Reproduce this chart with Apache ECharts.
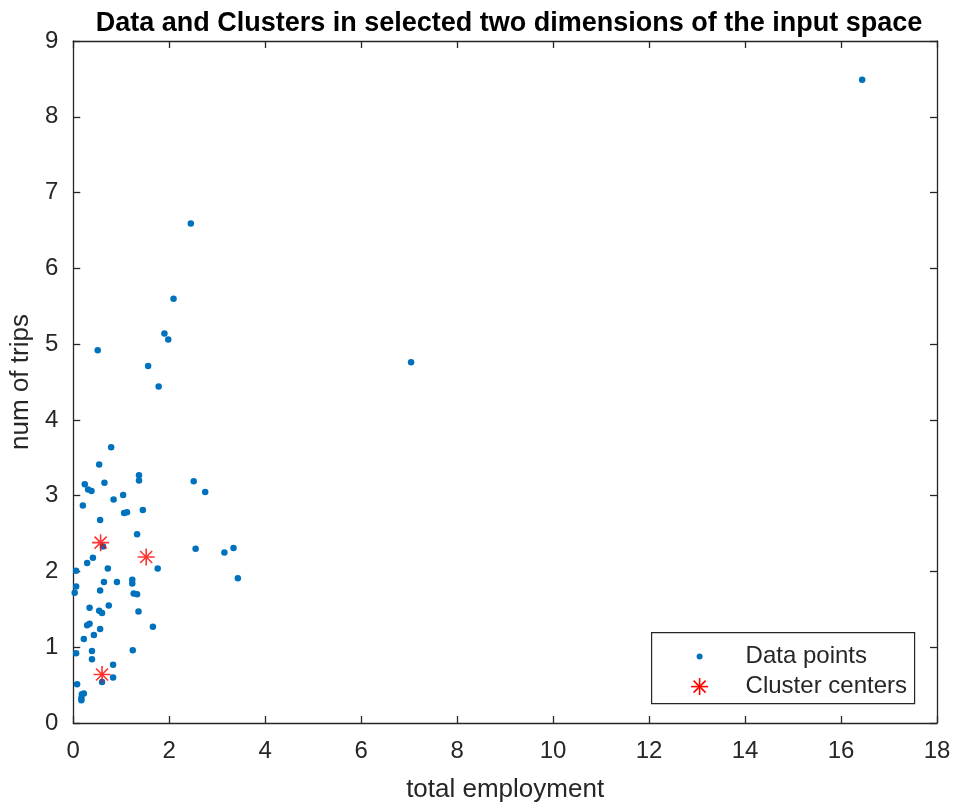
<!DOCTYPE html>
<html>
<head>
<meta charset="utf-8">
<script src="https://cdn.jsdelivr.net/npm/echarts@6/dist/echarts.min.js"></script>
<style>
  html, body { margin: 0; padding: 0; background: #fff; }
  #chart { width: 954px; height: 808px; }
</style>
</head>
<body>
<div id="chart"></div>
<script>
// data
var dataX = [16.44, 7.04, 2.45, 2.09, 1.90, 1.98, 0.51, 1.56, 1.78, 0.79,
             0.54, 0.24, 0.31, 0.38, 0.65, 1.37, 1.37, 1.04, 0.84, 0.20,
             1.06, 1.12, 1.45, 0.56, 1.33, 0.62, 0.41, 0.29, 0.06, 0.72,
             1.76, 2.51, 2.75, 2.55, 3.15, 3.34, 3.43, 0.64, 0.91, 1.23,
             1.23, 0.06, 0.03, 0.56, 1.26, 1.33, 0.34, 0.54, 0.60, 0.74,
             1.36, 0.34, 0.29, 0.56, 0.43, 0.22, 1.66, 1.24, 0.39, 0.06,
             0.39, 0.83, 0.83, 0.60, 0.08, 0.18, 0.22, 0.17, 0.17];
var dataY = [8.49, 4.76, 6.59, 5.60, 5.14, 5.06, 4.92, 4.71, 4.44, 3.64,
             3.41, 3.15, 3.08, 3.06, 3.17, 3.27, 3.20, 3.01, 2.95, 2.87,
             2.77, 2.78, 2.81, 2.68, 2.49, 2.33, 2.18, 2.11, 2.01, 2.04,
             2.04, 3.19, 3.05, 2.30, 2.25, 2.31, 1.91, 1.86, 1.86, 1.89,
             1.84, 1.80, 1.72, 1.75, 1.71, 1.70, 1.52, 1.48, 1.45, 1.55,
             1.47, 1.31, 1.29, 1.24, 1.16, 1.11, 1.27, 0.96, 0.95, 0.92,
             0.84, 0.77, 0.60, 0.54, 0.51, 0.38, 0.39, 0.33, 0.30];
var centerX = [0.57, 1.52, 0.60];
var centerY = [2.38, 2.19, 0.64];
var xTicks = [0, 2, 4, 6, 8, 10, 12, 14, 16, 18];
var yTicks = [0, 1, 2, 3, 4, 5, 6, 7, 8, 9];
var seriesNames = ['Data points', 'Cluster centers'];

var axisColor = '#262626';
var fontFam = '"Liberation Sans", Arial, sans-serif';
var starPath = 'path://M0,10L20,10M10,0L10,20M2.93,2.93L17.07,17.07M2.93,17.07L17.07,2.93';

function pairs(xs, ys) {
  return xs.map(function (x, i) { return [x, ys[i]]; });
}

function axisBase(min, max, step, ticks) {
  return {
    type: 'value',
    min: min,
    max: max,
    interval: step,
    splitLine: { show: false },
    axisLine: { show: true, onZero: false, lineStyle: { color: axisColor, width: 1.3 } },
    axisTick: { show: true, inside: true, length: 7, lineStyle: { color: axisColor, width: 1.3 } },
    axisLabel: {
      show: true,
      color: axisColor,
      fontSize: 24,
      fontFamily: fontFam,
      formatter: function (v) { return ticks.indexOf(v) >= 0 ? String(v) : ''; }
    }
  };
}

// little asterisk for the legend, made of four strokes
function starLines(cx, cy, r) {
  var d = r * 0.707;
  var segs = [[-r, 0, r, 0], [0, -r, 0, r], [-d, -d, d, d], [-d, d, d, -d]];
  return segs.map(function (s) {
    return {
      type: 'line',
      shape: { x1: cx + s[0], y1: cy + s[1], x2: cx + s[2], y2: cy + s[3] },
      style: { stroke: '#ff0000', lineWidth: 1.6 }
    };
  });
}

var myChart = echarts.init(document.getElementById('chart'), null, { renderer: 'canvas' });

var xBottom = axisBase(0, 18, 2, xTicks);
xBottom.position = 'bottom';
xBottom.name = 'total employment';
xBottom.nameLocation = 'middle';
xBottom.nameGap = 54;
xBottom.nameTextStyle = { color: axisColor, fontSize: 26, fontFamily: fontFam };
xBottom.axisLabel.margin = 16;

var xTop = axisBase(0, 18, 2, xTicks);
xTop.position = 'top';
xTop.axisLabel = { show: false };

var yLeft = axisBase(0, 9, 1, yTicks);
yLeft.position = 'left';
yLeft.name = 'num of trips';
yLeft.nameLocation = 'middle';
yLeft.nameGap = 36;
yLeft.nameTextStyle = { color: axisColor, fontSize: 26, fontFamily: fontFam };
yLeft.axisLabel.margin = 15;

var yRight = axisBase(0, 9, 1, yTicks);
yRight.position = 'right';
yRight.axisLabel = { show: false };

var legendParts = [
  {
    type: 'rect',
    shape: { x: 0, y: 0, width: 263, height: 71 },
    style: { fill: '#fff', stroke: axisColor, lineWidth: 1.2 }
  },
  {
    type: 'circle',
    shape: { cx: 48, cy: 24, r: 3 },
    style: { fill: '#0072BD' }
  },
  {
    type: 'text',
    x: 94,
    y: 24,
    style: { text: seriesNames[0], fill: axisColor, fontSize: 24, fontFamily: fontFam, verticalAlign: 'middle' }
  },
  {
    type: 'text',
    x: 94,
    y: 54,
    style: { text: seriesNames[1], fill: axisColor, fontSize: 24, fontFamily: fontFam, verticalAlign: 'middle' }
  }
].concat(starLines(48, 54, 8.5));

var option = {
  animation: false,
  backgroundColor: '#ffffff',
  title: {
    text: 'Data and Clusters in selected two dimensions of the input space',
    left: 504,
    top: 5,
    textAlign: 'center',
    textStyle: { color: '#000', fontSize: 27, fontWeight: 'bold', fontFamily: fontFam }
  },
  grid: { left: 70, right: 17, top: 41, bottom: 83, containLabel: false },
  xAxis: [xBottom, xTop],
  yAxis: [yLeft, yRight],
  series: [
    {
      name: seriesNames[0],
      type: 'scatter',
      xAxisIndex: 0,
      yAxisIndex: 0,
      symbol: 'circle',
      symbolSize: 6.5,
      itemStyle: { color: '#0072BD', opacity: 1 },
      data: pairs(dataX, dataY)
    },
    {
      name: seriesNames[1],
      type: 'scatter',
      xAxisIndex: 0,
      yAxisIndex: 0,
      symbol: starPath,
      symbolSize: 17,
      itemStyle: { color: 'rgba(0,0,0,0)', borderColor: '#ff0000', borderWidth: 1.6 },
      z: 5,
      data: pairs(centerX, centerY)
    }
  ],
  graphic: [
    {
      type: 'group',
      left: 651,
      top: 632,
      children: legendParts
    }
  ]
};

myChart.setOption(option);
</script>
</body>
</html>
